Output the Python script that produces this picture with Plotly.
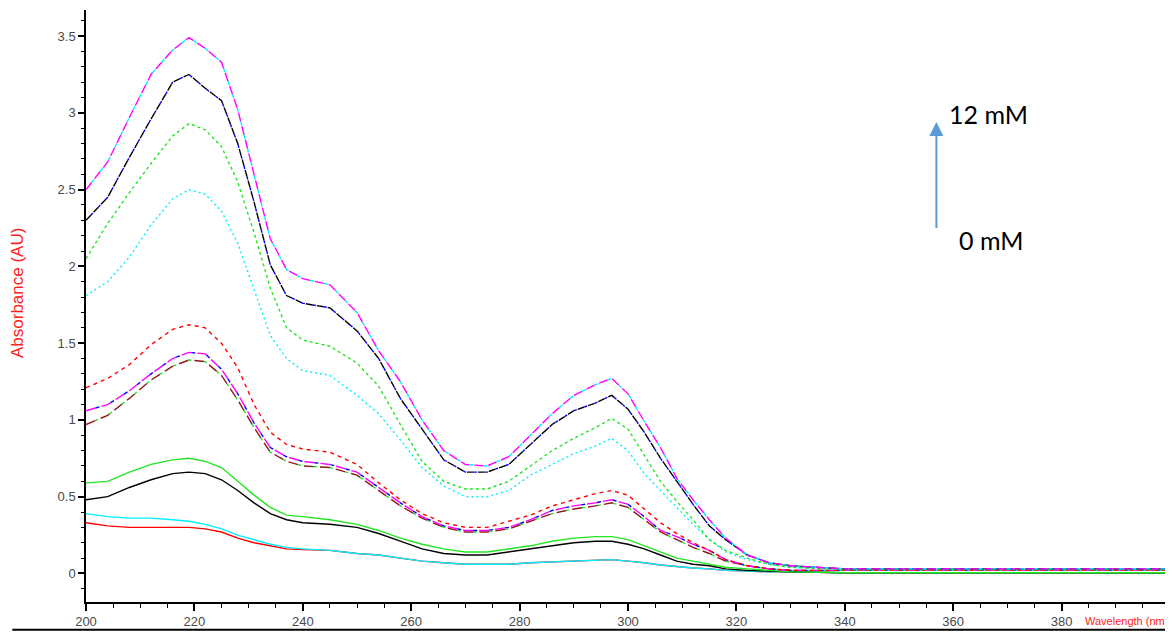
import plotly.graph_objects as go

# Wavelength grid (nm)
wavelength = [200, 204, 208, 212, 216, 219, 222, 225, 228, 231, 234, 237, 240, 245, 250, 254, 258,
              262, 266, 270, 274, 278, 282, 286, 290, 294, 297, 300, 303, 306, 309, 312, 315, 318,
              322, 326, 330, 340, 360, 380, 400]

# Absorbance spectra (AU), from 0 mM (lowest) to 12 mM (highest)
abs_red_solid = [0.33, 0.31, 0.30, 0.30, 0.30, 0.30, 0.29, 0.27, 0.23, 0.20, 0.18, 0.16, 0.155, 0.15, 0.13,
                 0.12, 0.10, 0.08, 0.07, 0.06, 0.06, 0.06, 0.07, 0.075, 0.08, 0.085, 0.09, 0.08, 0.07,
                 0.055, 0.045, 0.035, 0.03, 0.02, 0.015, 0.01, 0.01, 0.005, 0.005, 0.005, 0.005]
abs_cyan_solid = [0.39, 0.37, 0.36, 0.36, 0.35, 0.34, 0.32, 0.29, 0.25, 0.22, 0.19, 0.17, 0.16, 0.15, 0.13,
                  0.12, 0.10, 0.08, 0.07, 0.06, 0.06, 0.06, 0.07, 0.075, 0.08, 0.085, 0.09, 0.08, 0.07,
                  0.055, 0.045, 0.035, 0.03, 0.02, 0.015, 0.01, 0.01, 0.005, 0.005, 0.005, 0.005]
abs_black_solid = [0.48, 0.50, 0.56, 0.61, 0.65, 0.66, 0.65, 0.61, 0.54, 0.46, 0.39, 0.35, 0.33, 0.32, 0.30,
                   0.26, 0.21, 0.16, 0.13, 0.12, 0.12, 0.14, 0.16, 0.18, 0.20, 0.21, 0.21, 0.19, 0.16,
                   0.12, 0.08, 0.06, 0.05, 0.03, 0.02, 0.015, 0.01, 0.005, 0.005, 0.005, 0.005]
abs_green_solid = [0.59, 0.60, 0.66, 0.71, 0.74, 0.75, 0.73, 0.69, 0.60, 0.51, 0.43, 0.38, 0.37, 0.35, 0.32,
                   0.28, 0.23, 0.19, 0.16, 0.14, 0.14, 0.16, 0.18, 0.21, 0.23, 0.24, 0.24, 0.22, 0.18,
                   0.14, 0.10, 0.08, 0.06, 0.04, 0.03, 0.02, 0.01, 0.005, 0.005, 0.005, 0.005]
abs_brown_longdash = [0.97, 1.03, 1.14, 1.26, 1.35, 1.39, 1.38, 1.29, 1.13, 0.95, 0.79, 0.73, 0.70, 0.69, 0.64,
                      0.54, 0.44, 0.36, 0.30, 0.27, 0.27, 0.29, 0.34, 0.39, 0.42, 0.44, 0.46, 0.43, 0.35,
                      0.27, 0.22, 0.17, 0.13, 0.08, 0.05, 0.03, 0.02, 0.02, 0.02, 0.02, 0.02]
abs_magenta_longdash = [1.06, 1.10, 1.19, 1.30, 1.40, 1.44, 1.43, 1.33, 1.17, 0.98, 0.82, 0.76, 0.73, 0.71, 0.66,
                        0.56, 0.46, 0.37, 0.31, 0.28, 0.28, 0.30, 0.35, 0.41, 0.44, 0.46, 0.48, 0.45, 0.37,
                        0.28, 0.24, 0.19, 0.15, 0.09, 0.05, 0.03, 0.02, 0.02, 0.02, 0.02, 0.02]
abs_red_dash = [1.21, 1.27, 1.36, 1.49, 1.59, 1.62, 1.60, 1.50, 1.34, 1.10, 0.92, 0.84, 0.81, 0.79, 0.71,
                0.59, 0.48, 0.39, 0.33, 0.30, 0.30, 0.34, 0.38, 0.44, 0.48, 0.52, 0.54, 0.51, 0.42,
                0.33, 0.26, 0.20, 0.15, 0.09, 0.05, 0.03, 0.02, 0.02, 0.02, 0.02, 0.02]
abs_cyan_dot = [1.81, 1.90, 2.06, 2.27, 2.44, 2.50, 2.47, 2.36, 2.15, 1.85, 1.55, 1.40, 1.32, 1.29, 1.16,
                1.04, 0.87, 0.69, 0.57, 0.50, 0.50, 0.54, 0.64, 0.71, 0.78, 0.83, 0.88, 0.80, 0.65,
                0.54, 0.43, 0.32, 0.22, 0.14, 0.09, 0.06, 0.04, 0.025, 0.025, 0.025, 0.025]
abs_green_dash = [2.05, 2.28, 2.48, 2.67, 2.85, 2.93, 2.89, 2.78, 2.55, 2.22, 1.86, 1.60, 1.52, 1.48, 1.37,
                  1.22, 0.97, 0.73, 0.60, 0.55, 0.55, 0.60, 0.70, 0.80, 0.88, 0.95, 1.01, 0.94, 0.77,
                  0.60, 0.47, 0.35, 0.22, 0.15, 0.10, 0.06, 0.04, 0.025, 0.025, 0.025, 0.025]
abs_black_dash = [2.30, 2.45, 2.71, 2.96, 3.20, 3.25, 3.16, 3.08, 2.80, 2.42, 2.01, 1.81, 1.76, 1.73, 1.58,
                  1.40, 1.14, 0.94, 0.74, 0.66, 0.66, 0.71, 0.84, 0.97, 1.06, 1.11, 1.16, 1.07, 0.92,
                  0.75, 0.60, 0.45, 0.31, 0.22, 0.12, 0.07, 0.05, 0.03, 0.03, 0.03, 0.03]
abs_magenta_top = [2.50, 2.68, 2.97, 3.25, 3.41, 3.49, 3.42, 3.33, 3.02, 2.60, 2.18, 1.98, 1.92, 1.88, 1.70,
                   1.45, 1.25, 1.00, 0.80, 0.71, 0.70, 0.76, 0.90, 1.04, 1.16, 1.23, 1.27, 1.17, 0.99,
                   0.82, 0.62, 0.48, 0.35, 0.23, 0.12, 0.07, 0.05, 0.03, 0.03, 0.03, 0.03]

x_ticks = [200, 220, 240, 260, 280, 300, 320, 340, 360, 380]
y_ticks = [0, 0.5, 1, 1.5, 2, 2.5, 3, 3.5]
y_tick_text = ["0", "0.5", "1", "1.5", "2", "2.5", "3", "3.5"]

RED, CYAN, BLACK, GREEN = "#FF0000", "#00F0FF", "#000000", "#22E622"
BROWN, MAGENTA, BLUE = "#8B1A1A", "#FF00FF", "#0000FF"

# (data, colour, dash)
traces = [
    (abs_red_solid, RED, "solid"),
    (abs_cyan_solid, CYAN, "solid"),
    (abs_black_solid, BLACK, "solid"),
    (abs_green_solid, GREEN, "solid"),
    (abs_brown_longdash, BROWN, "10px,6px"),
    (abs_brown_longdash, GREEN, "0px,10px,3px,3px"),
    (abs_magenta_longdash, MAGENTA, "10px,6px"),
    (abs_magenta_longdash, BLUE, "0px,10px,4px,2px"),
    (abs_red_dash, RED, "4px,4px"),
    (abs_cyan_dot, CYAN, "2px,3px"),
    (abs_green_dash, GREEN, "3px,3px"),
    (abs_black_dash, BLACK, "7px,4px"),
    (abs_black_dash, BLUE, "0px,7px,3px,1px"),
    (abs_magenta_top, MAGENTA, "9px,5px"),
    (abs_magenta_top, CYAN, "0px,9px,4px,1px"),
]

fig = go.Figure()
for data, color, dash in traces:
    fig.add_trace(go.Scatter(x=wavelength, y=data, mode="lines",
                             line=dict(color=color, width=1.4, dash=dash),
                             showlegend=False, hoverinfo="skip"))

tick_font = dict(family="Liberation Sans Narrow, Arial Narrow, Liberation Sans, Arial", size=13, color="#4a4a4a")

# page body has an 8px margin, so the figure is sized to fit within the window
fig.update_layout(
    width=1165, height=624,
    margin=dict(l=78, r=3, t=2, b=30, autoexpand=False),
    paper_bgcolor="white", plot_bgcolor="white",
    xaxis=dict(range=[200, 400], tickvals=x_ticks, ticks="outside", ticklen=7, tickwidth=1.5,
               tickcolor="black", showline=True, linecolor="black", linewidth=1.5, automargin=False,
               showgrid=False, zeroline=False, tickfont=tick_font,
               minor=dict(dtick=5, ticks="outside", ticklen=4, tickcolor="black", tickwidth=1.2)),
    yaxis=dict(range=[-0.186, 3.67], tickvals=y_ticks, ticktext=y_tick_text,
               ticks="outside", ticklen=6, tickwidth=1.5, automargin=False,
               tickcolor="black", showline=True, linecolor="black", linewidth=1.5,
               showgrid=False, zeroline=False, tickfont=tick_font,
               minor=dict(dtick=0.1, ticks="outside", ticklen=3, tickcolor="black", tickwidth=1)),
)

# Axis titles
fig.add_annotation(text="Absorbance (AU)", xref="paper", yref="paper", x=-0.0627, y=0.522,
                   textangle=-90, showarrow=False, xanchor="center", yanchor="middle",
                   font=dict(family="Liberation Sans, Arial", size=17, color="#FF2020"))
fig.add_annotation(text="Wavelength (nm)", xref="paper", yref="paper", x=1.0, y=-0.018,
                   showarrow=False, xanchor="right", yanchor="top",
                   font=dict(family="Liberation Sans Narrow, Arial Narrow, Liberation Sans", size=11, color="#FF2020"))

# Concentration arrow
fig.add_annotation(x=356.9, y=2.94, ax=356.9, ay=2.24, xref="x", yref="y", axref="x", ayref="y",
                   text="", showarrow=True, arrowhead=2, arrowsize=1.4, arrowwidth=2, arrowcolor="#5B9BD5")
fig.add_annotation(x=366.6, y=2.99, xref="x", yref="y", text="12 mM", showarrow=False,
                   font=dict(family="Lato, Open Sans, sans-serif", size=25, color="black"))
fig.add_annotation(x=366.9, y=2.175, xref="x", yref="y", text="0 mM", showarrow=False,
                   font=dict(family="Lato, Open Sans, sans-serif", size=25, color="black"))

# Bottom border line of the original figure
fig.add_shape(type="line", xref="paper", yref="paper", x0=-0.068, x1=1.01, y0=-0.047, y1=-0.047,
              line=dict(color="black", width=2))

fig.write_html("out.html")
